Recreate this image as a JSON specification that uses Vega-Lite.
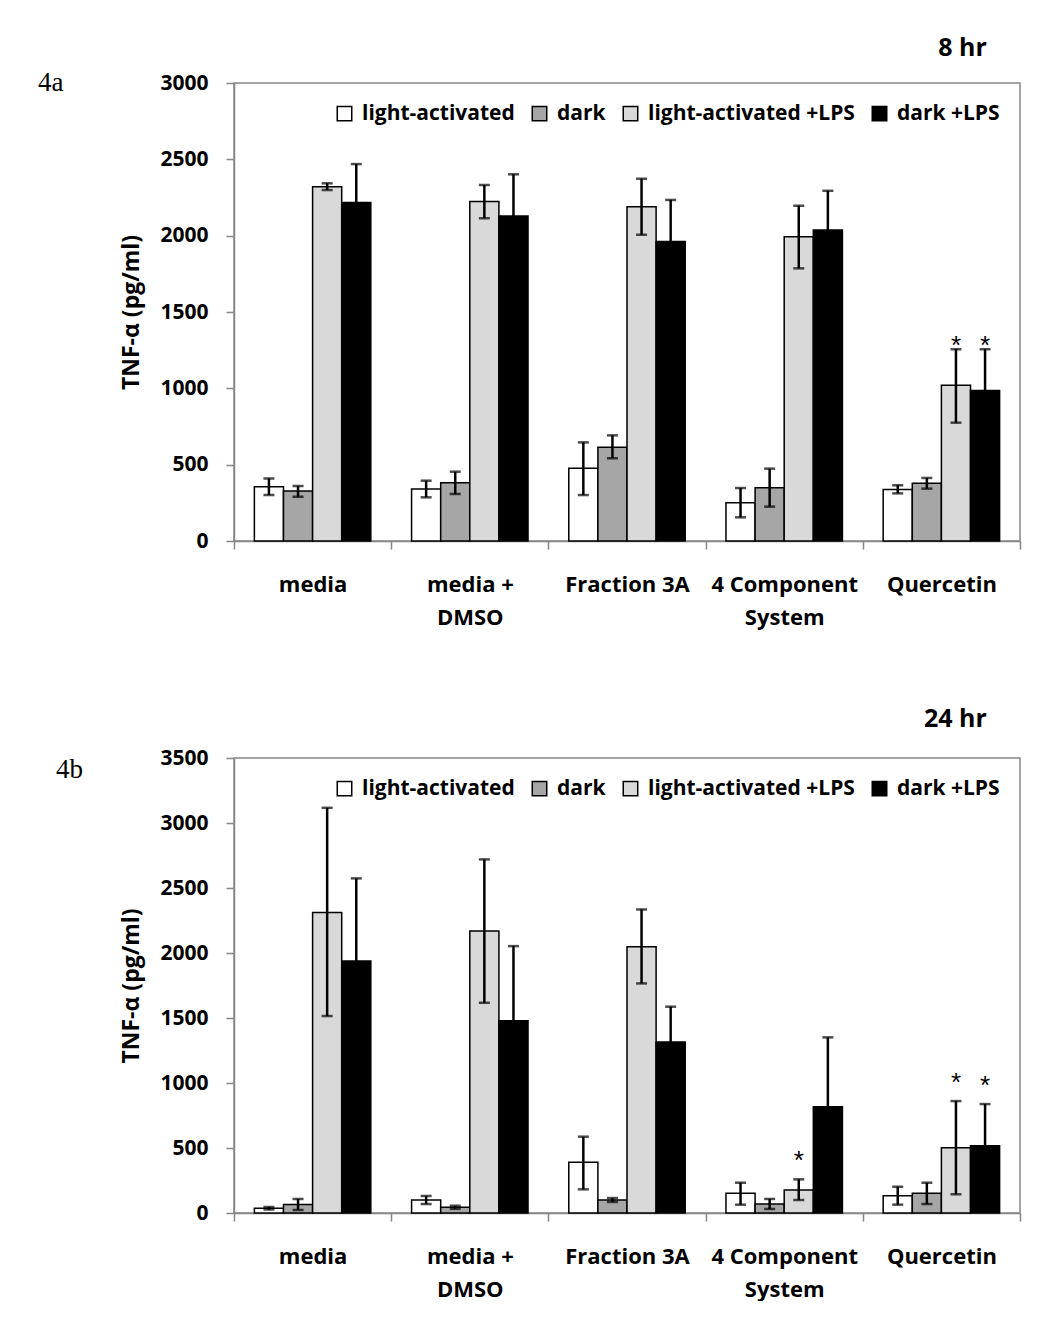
{
  "$schema": "https://vega.github.io/schema/vega-lite/v6.json",
  "background": "white",
  "padding": {"left": 37, "top": 35, "right": 0, "bottom": 0},
  "datasets": {
    "a": [
      {"treatment": "media", "group": "light-activated", "value": 356, "lo": 301, "hi": 410, "star": ""},
      {"treatment": "media", "group": "dark", "value": 327, "lo": 290, "hi": 360, "star": ""},
      {"treatment": "media", "group": "light-activated +LPS", "value": 2321, "lo": 2299, "hi": 2343, "star": ""},
      {"treatment": "media", "group": "dark +LPS", "value": 2218, "lo": 1967, "hi": 2469, "star": ""},
      {"treatment": "media + DMSO", "group": "light-activated", "value": 340, "lo": 286, "hi": 395, "star": ""},
      {"treatment": "media + DMSO", "group": "dark", "value": 382, "lo": 308, "hi": 454, "star": ""},
      {"treatment": "media + DMSO", "group": "light-activated +LPS", "value": 2223, "lo": 2114, "hi": 2332, "star": ""},
      {"treatment": "media + DMSO", "group": "dark +LPS", "value": 2129, "lo": 1856, "hi": 2402, "star": ""},
      {"treatment": "Fraction 3A", "group": "light-activated", "value": 476, "lo": 301, "hi": 646, "star": ""},
      {"treatment": "Fraction 3A", "group": "dark", "value": 614, "lo": 542, "hi": 692, "star": ""},
      {"treatment": "Fraction 3A", "group": "light-activated +LPS", "value": 2190, "lo": 2006, "hi": 2373, "star": ""},
      {"treatment": "Fraction 3A", "group": "dark +LPS", "value": 1961, "lo": 1688, "hi": 2234, "star": ""},
      {"treatment": "4 Component System", "group": "light-activated", "value": 251, "lo": 155, "hi": 347, "star": ""},
      {"treatment": "4 Component System", "group": "dark", "value": 349, "lo": 225, "hi": 474, "star": ""},
      {"treatment": "4 Component System", "group": "light-activated +LPS", "value": 1993, "lo": 1786, "hi": 2196, "star": ""},
      {"treatment": "4 Component System", "group": "dark +LPS", "value": 2037, "lo": 1780, "hi": 2294, "star": ""},
      {"treatment": "Quercetin", "group": "light-activated", "value": 338, "lo": 312, "hi": 365, "star": ""},
      {"treatment": "Quercetin", "group": "dark", "value": 378, "lo": 343, "hi": 413, "star": ""},
      {"treatment": "Quercetin", "group": "light-activated +LPS", "value": 1020, "lo": 775, "hi": 1256, "star": "*"},
      {"treatment": "Quercetin", "group": "dark +LPS", "value": 985, "lo": 714, "hi": 1256, "star": "*"}
    ],
    "b": [
      {"treatment": "media", "group": "light-activated", "value": 36, "lo": 26, "hi": 46, "star": ""},
      {"treatment": "media", "group": "dark", "value": 66, "lo": 24, "hi": 108, "star": ""},
      {"treatment": "media", "group": "light-activated +LPS", "value": 2312, "lo": 1515, "hi": 3117, "star": ""},
      {"treatment": "media", "group": "dark +LPS", "value": 1938, "lo": 1302, "hi": 2574, "star": ""},
      {"treatment": "media + DMSO", "group": "light-activated", "value": 100, "lo": 69, "hi": 131, "star": ""},
      {"treatment": "media + DMSO", "group": "dark", "value": 44, "lo": 32, "hi": 56, "star": ""},
      {"treatment": "media + DMSO", "group": "light-activated +LPS", "value": 2169, "lo": 1617, "hi": 2720, "star": ""},
      {"treatment": "media + DMSO", "group": "dark +LPS", "value": 1479, "lo": 904, "hi": 2053, "star": ""},
      {"treatment": "Fraction 3A", "group": "light-activated", "value": 390, "lo": 182, "hi": 587, "star": ""},
      {"treatment": "Fraction 3A", "group": "dark", "value": 100, "lo": 85, "hi": 115, "star": ""},
      {"treatment": "Fraction 3A", "group": "light-activated +LPS", "value": 2048, "lo": 1766, "hi": 2335, "star": ""},
      {"treatment": "Fraction 3A", "group": "dark +LPS", "value": 1315, "lo": 1043, "hi": 1587, "star": ""},
      {"treatment": "4 Component System", "group": "light-activated", "value": 151, "lo": 64, "hi": 233, "star": ""},
      {"treatment": "4 Component System", "group": "dark", "value": 69, "lo": 31, "hi": 108, "star": ""},
      {"treatment": "4 Component System", "group": "light-activated +LPS", "value": 177, "lo": 100, "hi": 259, "star": "*"},
      {"treatment": "4 Component System", "group": "dark +LPS", "value": 818, "lo": 285, "hi": 1351, "star": ""},
      {"treatment": "Quercetin", "group": "light-activated", "value": 133, "lo": 64, "hi": 202, "star": ""},
      {"treatment": "Quercetin", "group": "dark", "value": 151, "lo": 69, "hi": 233, "star": ""},
      {"treatment": "Quercetin", "group": "light-activated +LPS", "value": 502, "lo": 144, "hi": 861, "star": "*"},
      {"treatment": "Quercetin", "group": "dark +LPS", "value": 518, "lo": 198, "hi": 838, "star": "*"}
    ]
  },
  "config": {
    "view": {"stroke": "#878787", "strokeWidth": 1.5},
    "font": "Open Sans",
    "axis": {
      "domainColor": "#878787", "domainWidth": 1.5,
      "tickColor": "#878787", "tickWidth": 1.5, "tickSize": 8,
      "labelFont": "Open Sans", "labelFontWeight": "bold", "labelColor": "black",
      "titleFont": "Open Sans", "titleFontWeight": "bold", "titleColor": "black",
      "grid": false
    },
    "legend": {
      "orient": "none", "direction": "horizontal", "title": null,
      "symbolType": "square", "symbolSize": 210, "symbolStrokeColor": "black", "symbolStrokeWidth": 1.5,
      "labelFont": "Open Sans", "labelFontWeight": "bold", "labelFontSize": 21, "labelColor": "black",
      "labelLimit": 400, "columnPadding": 14, "labelOffset": 7
    },
    "title": {"font": "Open Sans", "fontWeight": "bold", "fontSize": 25, "color": "black", "anchor": "end"}
  },
  "resolve": {"scale": {"y": "independent", "x": "independent", "fill": "shared"}, "legend": {"fill": "independent"}},
  "spacing": 77,
  "vconcat": [
    {
      "width": 786, "height": 458,
      "title": {"text": "8 hr", "dx": -34, "offset": 8},
      "data": {"name": "a"},
      "encoding": {
        "x": {"field": "treatment", "type": "nominal", "sort": ["media", "media + DMSO", "Fraction 3A", "4 Component System", "Quercetin"],
          "scale": {"paddingInner": 0, "paddingOuter": 0},
          "axis": {"title": null, "tickBand": "extent", "labelAngle": 0, "labelFontSize": 22, "labelPadding": 25, "labelLineHeight": 33, "labelBaseline": "top",
            "labelExpr": "datum.value == 'media + DMSO' ? ['media +', 'DMSO'] : datum.value == '4 Component System' ? ['4 Component', 'System'] : datum.label"}},
        "xOffset": {"field": "group", "type": "nominal", "sort": ["light-activated", "dark", "light-activated +LPS", "dark +LPS"], "scale": {"paddingInner": 0, "paddingOuter": 0.7}}
      },
      "layer": [
        {
          "mark": {"type": "bar", "stroke": "black", "strokeWidth": 1.5},
          "encoding": {
            "y": {"field": "value", "type": "quantitative", "scale": {"domain": [0, 3000], "nice": false},
              "axis": {"title": "TNF-α (pg/ml)", "values": [0, 500, 1000, 1500, 2000, 2500, 3000], "format": "d", "labelFontSize": 21, "labelPadding": 18, "titleFontSize": 23, "titlePadding": 16}},
            "fill": {"field": "group", "type": "nominal",
              "scale": {"domain": ["light-activated", "dark", "light-activated +LPS", "dark +LPS"], "range": ["#ffffff", "#a6a6a6", "#d9d9d9", "#000000"]},
              "legend": {"legendX": 100, "legendY": 20}}
          }
        },
        {
          "mark": {"type": "rule", "color": "black", "strokeWidth": 2.5},
          "encoding": {"y": {"field": "lo", "type": "quantitative"}, "y2": {"field": "hi"}}
        },
        {
          "mark": {"type": "tick", "color": "black", "thickness": 2.5, "size": 11, "orient": "horizontal"},
          "encoding": {"y": {"field": "lo", "type": "quantitative"}}
        },
        {
          "mark": {"type": "tick", "color": "black", "thickness": 2.5, "size": 11, "orient": "horizontal"},
          "encoding": {"y": {"field": "hi", "type": "quantitative"}}
        },
        {
          "mark": {"type": "text", "fontSize": 26, "font": "Liberation Sans", "baseline": "middle", "dy": -3},
          "encoding": {"y": {"field": "hi", "type": "quantitative"}, "text": {"field": "star"}}
        },
        {
          "data": {"values": [{"label": "4a"}]},
          "mark": {"type": "text", "font": "Liberation Serif", "fontSize": 27, "align": "left", "baseline": "middle"},
          "encoding": {"x": {"value": -196}, "y": {"datum": 3000}, "xOffset": null, "text": {"field": "label"}}
        }
      ]
    },
    {
      "width": 786, "height": 455,
      "title": {"text": "24 hr", "dx": -34, "offset": 15},
      "data": {"name": "b"},
      "encoding": {
        "x": {"field": "treatment", "type": "nominal", "sort": ["media", "media + DMSO", "Fraction 3A", "4 Component System", "Quercetin"],
          "scale": {"paddingInner": 0, "paddingOuter": 0},
          "axis": {"title": null, "tickBand": "extent", "labelAngle": 0, "labelFontSize": 22, "labelPadding": 25, "labelLineHeight": 33, "labelBaseline": "top",
            "labelExpr": "datum.value == 'media + DMSO' ? ['media +', 'DMSO'] : datum.value == '4 Component System' ? ['4 Component', 'System'] : datum.label"}},
        "xOffset": {"field": "group", "type": "nominal", "sort": ["light-activated", "dark", "light-activated +LPS", "dark +LPS"], "scale": {"paddingInner": 0, "paddingOuter": 0.7}}
      },
      "layer": [
        {
          "mark": {"type": "bar", "stroke": "black", "strokeWidth": 1.5},
          "encoding": {
            "y": {"field": "value", "type": "quantitative", "scale": {"domain": [0, 3500], "nice": false},
              "axis": {"title": "TNF-α (pg/ml)", "values": [0, 500, 1000, 1500, 2000, 2500, 3000, 3500], "format": "d", "labelFontSize": 21, "labelPadding": 18, "titleFontSize": 23, "titlePadding": 16}},
            "fill": {"field": "group", "type": "nominal",
              "scale": {"domain": ["light-activated", "dark", "light-activated +LPS", "dark +LPS"], "range": ["#ffffff", "#a6a6a6", "#d9d9d9", "#000000"]},
              "legend": {"legendX": 100, "legendY": 20}}
          }
        },
        {
          "mark": {"type": "rule", "color": "black", "strokeWidth": 2.5},
          "encoding": {"y": {"field": "lo", "type": "quantitative"}, "y2": {"field": "hi"}}
        },
        {
          "mark": {"type": "tick", "color": "black", "thickness": 2.5, "size": 11, "orient": "horizontal"},
          "encoding": {"y": {"field": "lo", "type": "quantitative"}}
        },
        {
          "mark": {"type": "tick", "color": "black", "thickness": 2.5, "size": 11, "orient": "horizontal"},
          "encoding": {"y": {"field": "hi", "type": "quantitative"}}
        },
        {
          "mark": {"type": "text", "fontSize": 26, "font": "Liberation Sans", "baseline": "middle", "dy": -18},
          "encoding": {"y": {"field": "hi", "type": "quantitative"}, "text": {"field": "star"}}
        },
        {
          "data": {"values": [{"label": "4b"}]},
          "mark": {"type": "text", "font": "Liberation Serif", "fontSize": 27, "align": "left", "baseline": "middle", "dy": 12},
          "encoding": {"x": {"value": -178}, "y": {"datum": 3500}, "xOffset": null, "text": {"field": "label"}}
        }
      ]
    }
  ]
}
